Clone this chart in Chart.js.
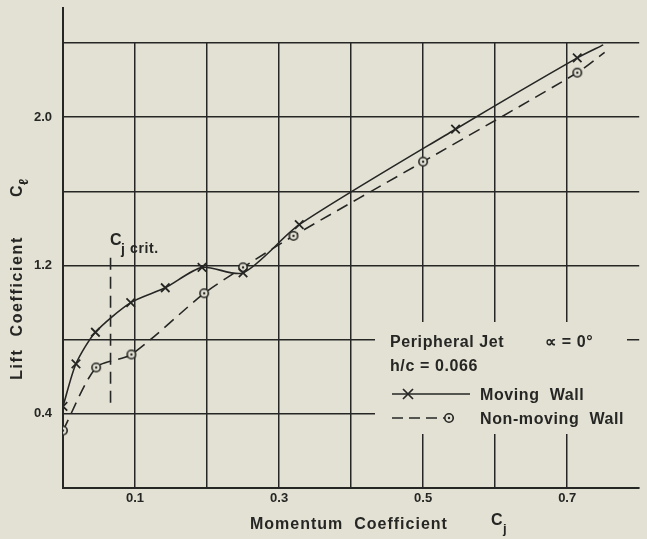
<!DOCTYPE html>
<html>
<head>
<meta charset="utf-8">
<script src="https://cdn.jsdelivr.net/npm/chart.js@4.4.0/dist/chart.umd.min.js"></script>
<style>
  html, body { margin: 0; padding: 0; background: #e3e1d4; }
</style>
</head>
<body>
<canvas id="liftChart" width="647" height="539"></canvas>
<script>
// moving wall (x markers); last pair is the end of the faired line
var movingCj = [0, 0.018, 0.045, 0.094, 0.142, 0.193, 0.25, 0.328, 0.545, 0.714, 0.75];
var movingCl = [0.44, 0.67, 0.84, 1.0, 1.08, 1.19, 1.16, 1.42, 1.935, 2.32, 2.39];
// non-moving wall (circle markers); last pair is the end of the faired line
var fixedCj = [0, 0.046, 0.095, 0.196, 0.25, 0.32, 0.5, 0.714, 0.752];
var fixedCl = [0.31, 0.65, 0.72, 1.05, 1.19, 1.36, 1.76, 2.24, 2.35];
// C_j crit. marker line
var critCj = [0.066, 0.066];
var critCl = [0.46, 1.25];

var xLabels = [0.1, 0.3, 0.5, 0.7];
var yLabels = [0.4, 1.2, 2.0];
var yGrid = [0, 0.4, 0.8, 1.2, 1.6, 2.0, 2.4];

var ink = '#262624';
var paper = '#e3e1d4';

function pairs(xs, ys) {
    return xs.map(function (x, i) { return { x: x, y: ys[i] }; });
}
function radii(n, r) {
    var out = [];
    for (var i = 0; i < n; i++) out.push(i === n - 1 ? 0 : r);
    return out;
}

// circle with a centre dot, like the hand-drawn points
var dotCircle = document.createElement('canvas');
dotCircle.width = 12;
dotCircle.height = 12;
(function () {
    var c = dotCircle.getContext('2d');
    c.strokeStyle = ink;
    c.lineWidth = 1.6;
    c.beginPath();
    c.arc(6, 6, 4.2, 0, Math.PI * 2);
    c.fillStyle = paper;
    c.fill();
    c.stroke();
    c.fillStyle = ink;
    c.beginPath();
    c.arc(6, 6, 1.2, 0, Math.PI * 2);
    c.fill();
})();

var extras = {
    id: 'extras',
    beforeDraw: function (chart) {
        var ctx = chart.ctx;
        ctx.save();
        ctx.fillStyle = paper;
        ctx.fillRect(0, 0, chart.width, chart.height);
        ctx.restore();
    },
    beforeDatasetsDraw: function (chart) {
        var ctx = chart.ctx;
        var a = chart.chartArea;
        ctx.save();
        // left axis runs on above the grid
        ctx.strokeStyle = ink;
        ctx.lineWidth = 2;
        ctx.beginPath();
        ctx.moveTo(a.left, a.top);
        ctx.lineTo(a.left, 7);
        ctx.stroke();

        // legend block blanks the grid behind it
        ctx.fillStyle = paper;
        ctx.fillRect(375, 322, 252, 112);
        ctx.fillRect(620, 352, 27, 82);

        ctx.fillStyle = ink;
        ctx.textBaseline = 'middle';
        ctx.textAlign = 'left';
        ctx.font = 'bold 16px "Liberation Sans"';
        ctx.letterSpacing = '0.6px';
        ctx.fillText('Peripheral Jet', 390, 343);
        ctx.fillText('\u221D = 0\u00B0', 545, 343);
        ctx.fillText('h/c = 0.066', 390, 367);
        ctx.fillText('Moving  Wall', 480, 396);
        ctx.fillText('Non-moving  Wall', 480, 420);

        ctx.strokeStyle = ink;
        ctx.lineWidth = 1.5;
        ctx.beginPath();
        ctx.moveTo(392, 394);
        ctx.lineTo(470, 394);
        ctx.stroke();
        ctx.lineWidth = 1.7;
        ctx.beginPath();
        ctx.moveTo(403, 389); ctx.lineTo(413, 399);
        ctx.moveTo(413, 389); ctx.lineTo(403, 399);
        ctx.stroke();

        ctx.lineWidth = 1.5;
        ctx.setLineDash([11, 6]);
        ctx.beginPath();
        ctx.moveTo(392, 418);
        ctx.lineTo(456, 418);
        ctx.stroke();
        ctx.setLineDash([]);
        ctx.drawImage(dotCircle, 443, 412);

        // C_j crit. label
        ctx.font = 'bold 16px "Liberation Sans"';
        ctx.fillText('C', 110, 241);
        ctx.font = 'bold 14px "Liberation Sans"';
        ctx.fillText('j', 121, 250);
        ctx.fillText('crit.', 130, 249);
        ctx.restore();
    },
    afterDraw: function (chart) {
        var ctx = chart.ctx;
        ctx.save();
        ctx.fillStyle = ink;
        ctx.textBaseline = 'middle';
        ctx.font = 'bold 16px "Liberation Sans"';
        ctx.letterSpacing = '1px';
        ctx.textAlign = 'left';
        ctx.fillText('Momentum  Coefficient', 250, 525);
        ctx.fillText('C', 491, 521);
        ctx.font = 'bold 13px "Liberation Sans"';
        ctx.fillText('j', 503, 529);

        ctx.translate(18, 0);
        ctx.rotate(-Math.PI / 2);
        ctx.font = 'bold 16px "Liberation Sans"';
        ctx.letterSpacing = '1.6px';
        ctx.textAlign = 'center';
        ctx.fillText('Lift  Coefficient', -308, 0);
        ctx.textAlign = 'left';
        ctx.fillText('C', -197, 0);
        ctx.font = 'bold 13px "Liberation Sans"';
        ctx.fillText('\u2113', -185, 6);
        ctx.restore();
    }
};

var cntxt = document.getElementById('liftChart');
var liftChart = new Chart(cntxt, {
    type: 'scatter',
    data: {
        datasets: [
            {
                label: 'Moving Wall',
                data: pairs(movingCj, movingCl),
                showLine: true,
                borderColor: ink,
                borderWidth: 1.6,
                tension: 0.25,
                pointStyle: 'crossRot',
                pointRadius: radii(movingCj.length, 6),
                pointBorderWidth: 1.8,
                pointBorderColor: ink
            },
            {
                label: 'Non-moving Wall',
                data: pairs(fixedCj, fixedCl),
                showLine: true,
                borderColor: ink,
                borderWidth: 1.6,
                borderDash: [12, 7],
                tension: 0.25,
                pointStyle: dotCircle,
                pointRadius: radii(fixedCj.length, 5),
                pointBorderColor: ink
            },
            {
                label: 'crit',
                data: pairs(critCj, critCl),
                showLine: true,
                borderColor: ink,
                borderWidth: 1.6,
                borderDash: [12, 7],
                pointRadius: 0
            }
        ]
    },
    options: {
        responsive: false,
        animation: false,
        events: [],
        layout: { padding: { top: 43, right: 3, left: 0, bottom: 0 } },
        plugins: { legend: { display: false }, tooltip: { enabled: false } },
        scales: {
            x: {
                type: 'linear',
                min: 0,
                max: 0.8,
                afterFit: function (s) { s.height = 51; },
                afterBuildTicks: function (s) {
                    var t = [];
                    for (var i = 0; i <= 8; i++) t.push({ value: i / 10 });
                    s.ticks = t;
                },
                grid: {
                    color: function (c) { return c.tick && c.tick.value > 0.75 ? 'rgba(0,0,0,0)' : ink; },
                    lineWidth: 1.5,
                    drawTicks: false
                },
                border: { display: true, color: ink, width: 2 },
                ticks: {
                    color: ink,
                    padding: 3,
                    maxRotation: 0,
                    autoSkip: false,
                    font: { family: 'Liberation Sans', size: 13, weight: 'bold' },
                    callback: function (v) {
                        var r = Math.round(v * 10) / 10;
                        return xLabels.indexOf(r) >= 0 ? r.toFixed(1) : '';
                    }
                }
            },
            y: {
                type: 'linear',
                min: 0,
                max: 2.4,
                afterFit: function (s) { s.width = 63; },
                afterBuildTicks: function (s) {
                    s.ticks = yGrid.map(function (v) { return { value: v }; });
                },
                grid: { color: ink, lineWidth: 1.5, drawTicks: false },
                border: { display: true, color: ink, width: 2 },
                ticks: {
                    color: ink,
                    padding: 11,
                    autoSkip: false,
                    font: { family: 'Liberation Sans', size: 13, weight: 'bold' },
                    callback: function (v) {
                        var r = Math.round(v * 10) / 10;
                        return yLabels.indexOf(r) >= 0 ? r.toFixed(1) : '';
                    }
                }
            }
        }
    },
    plugins: [extras]
});
</script>
</body>
</html>
